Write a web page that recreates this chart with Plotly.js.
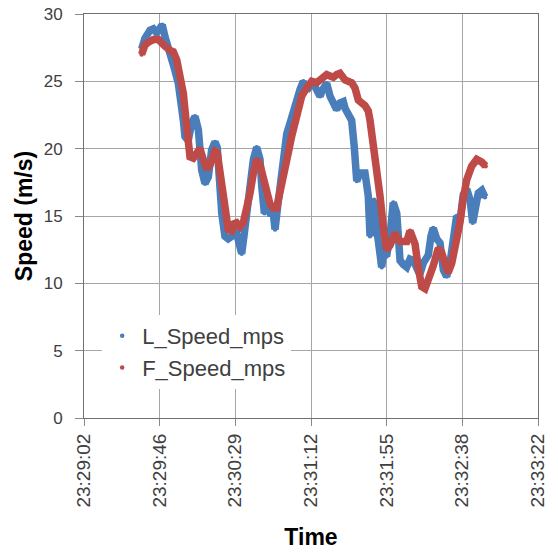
<!DOCTYPE html>
<html><head><meta charset="utf-8">
<script src="https://cdn.plot.ly/plotly-3.0.1.min.js"></script>
<style>html,body{margin:0;padding:0;background:#fff}#chart{width:558px;height:552px}</style>
</head><body><div id="chart"></div>
<script>
// L_Speed_mps (blue)
const lTime = ["23:29:35.0","23:29:36.9","23:29:39.8","23:29:41.7","23:29:43.6","23:29:45.5","23:29:46.8","23:29:48.4","23:29:50.3","23:29:52.2","23:29:54.1","23:29:56.0","23:29:58.0","23:29:58.9","23:29:59.8","23:30:01.7","23:30:03.7","23:30:05.6","23:30:07.5","23:30:08.4","23:30:09.4","23:30:11.3","23:30:13.2","23:30:15.1","23:30:17.0","23:30:18.3","23:30:19.9","23:30:20.9","23:30:22.7","23:30:24.6","23:30:26.8","23:30:28.5","23:30:30.4","23:30:32.3","23:30:33.6","23:30:35.2","23:30:37.1","23:30:39.0","23:30:40.9","23:30:42.8","23:30:43.8","23:30:45.3","23:30:46.6","23:30:48.5","23:30:50.4","23:30:51.4","23:30:52.9","23:30:54.2","23:30:56.1","23:30:58.1","23:31:00.0","23:31:01.9","23:31:03.8","23:31:05.7","23:31:07.6","23:31:08.6","23:31:10.5","23:31:12.4","23:31:14.3","23:31:16.2","23:31:17.2","23:31:18.3","23:31:21.0","23:31:22.9","23:31:24.8","23:31:26.7","23:31:28.6","23:31:30.5","23:31:31.5","23:31:33.4","23:31:35.3","23:31:36.8","23:31:38.2","23:31:40.1","23:31:42.9","23:31:44.8","23:31:45.8","23:31:46.9","23:31:48.1","23:31:49.2","23:31:50.5","23:31:51.5","23:31:52.5","23:31:53.8","23:31:55.3","23:31:57.2","23:31:59.1","23:32:01.1","23:32:02.0","23:32:03.0","23:32:04.9","23:32:06.8","23:32:08.7","23:32:10.6","23:32:13.4","23:32:14.4","23:32:16.3","23:32:19.2","23:32:20.7","23:32:22.0","23:32:24.0","23:32:25.9","23:32:27.8","23:32:29.7","23:32:31.6","23:32:33.5","23:32:35.4","23:32:37.3","23:32:39.2","23:32:41.2","23:32:43.1","23:32:44.6","23:32:45.9","23:32:47.8","23:32:49.8","23:32:51.6"];
const lSpeed = [27.4,28.2,28.8,28.9,28.6,28.9,29.2,28.3,27.6,26.6,25.8,24.85,23.4,22.1,20.9,20.6,21.9,22.4,21.4,19.9,18.4,17.4,17.9,19.9,20.5,20.1,16.7,15.2,13.5,13.3,13.5,14.1,13.2,12.2,13.5,15.2,17.2,19.2,20.1,19.2,17.2,15.2,15.7,15.2,15.2,14.0,15.7,17.2,19.2,21.1,21.9,22.9,23.6,24.4,25.0,24.6,24.5,24.85,24.6,24.2,23.9,24.3,24.85,23.9,23.2,22.9,23.4,23.5,23.0,22.5,22.1,20.1,17.6,18.2,18.2,16.5,13.5,15.0,16.2,14.5,13.0,11.5,11.2,12.7,12.0,13.5,16.0,15.2,12.2,11.7,11.4,11.2,11.8,11.7,10.9,10.7,11.5,12.1,13.5,14.1,13.3,13.0,11.0,10.5,11.5,13.3,15.0,14.6,16.6,17.0,16.2,14.5,15.2,16.7,16.9,16.4];

// F_Speed_mps (red)
const fTime = ["23:29:35.0","23:29:36.9","23:29:38.8","23:29:41.7","23:29:44.6","23:29:46.5","23:29:48.4","23:29:51.3","23:29:53.1","23:29:55.1","23:29:57.0","23:29:58.9","23:29:59.8","23:30:00.8","23:30:01.7","23:30:02.7","23:30:04.6","23:30:06.5","23:30:08.4","23:30:10.3","23:30:12.3","23:30:14.2","23:30:17.0","23:30:18.3","23:30:19.5","23:30:20.9","23:30:22.7","23:30:24.6","23:30:26.6","23:30:27.5","23:30:29.4","23:30:31.3","23:30:33.2","23:30:35.2","23:30:37.1","23:30:39.0","23:30:40.9","23:30:42.8","23:30:44.7","23:30:46.6","23:30:48.5","23:30:50.4","23:30:52.4","23:30:53.3","23:30:55.2","23:30:57.1","23:30:59.0","23:31:00.9","23:31:02.8","23:31:04.7","23:31:06.7","23:31:09.5","23:31:12.4","23:31:15.3","23:31:18.1","23:31:21.0","23:31:22.9","23:31:24.8","23:31:26.7","23:31:28.6","23:31:31.5","23:31:35.3","23:31:37.2","23:31:39.1","23:31:42.9","23:31:44.8","23:31:45.8","23:31:47.7","23:31:49.6","23:31:51.5","23:31:53.4","23:31:55.3","23:31:57.2","23:32:00.1","23:32:03.0","23:32:04.9","23:32:06.8","23:32:08.7","23:32:10.4","23:32:11.6","23:32:13.4","23:32:15.4","23:32:17.3","23:32:19.2","23:32:22.0","23:32:24.9","23:32:26.8","23:32:28.7","23:32:30.6","23:32:32.6","23:32:34.5","23:32:36.4","23:32:37.3","23:32:39.2","23:32:41.2","23:32:44.0","23:32:46.9","23:32:49.8","23:32:52.0"];
const fSpeed = [27.0,27.7,27.9,28.1,28.1,27.8,27.6,27.3,27.2,26.6,25.6,24.1,22.9,21.4,19.9,19.4,19.3,19.8,20.0,19.2,18.5,18.8,19.8,19.7,18.7,16.9,15.2,14.0,13.9,14.4,14.5,14.2,14.5,15.4,16.7,18.2,19.2,18.8,17.9,16.7,15.9,15.6,15.6,16.2,17.2,18.4,19.7,20.9,21.9,22.9,23.9,24.5,25.0,24.9,25.2,25.5,25.4,25.3,25.5,25.6,25.1,24.9,24.5,23.6,23.2,22.8,22.1,20.4,18.7,16.5,14.2,12.5,12.8,13.7,13.1,13.1,13.1,13.9,13.4,12.9,11.2,9.75,9.6,10.2,11.3,12.6,12.3,11.5,10.8,11.5,12.8,13.5,14.5,16.3,17.7,18.7,19.2,19.0,18.7];

const tickLabels = ["23:29:02","23:29:46","23:30:29","23:31:12","23:31:55","23:32:38","23:33:22"];
const seriesNames = ["L_Speed_mps","F_Speed_mps"];

const DAY = "2000-01-01 ";
function secs(t){const p=t.split(":");return (+p[0])*3600+(+p[1])*60+(+p[2]);}
function pad(n,w){let s=String(n);while(s.length<w)s="0"+s;return s;}
function fromSecs(s){
  const h=Math.floor(s/3600), m=Math.floor((s-h*3600)/60), sec=s-h*3600-m*60;
  let ss=sec.toFixed(3); if(sec<10) ss="0"+ss;
  return DAY+pad(h,2)+":"+pad(m,2)+":"+ss;
}
const toDates = arr => arr.map(t => DAY + t);

const t0 = secs(tickLabels[0]), t1 = secs(tickLabels[tickLabels.length-1]);
const step = (t1 - t0) / (tickLabels.length - 1);
const tickVals = tickLabels.map((_, i) => fromSecs(t0 + i*step));

const BLUE = "#4a7ebb", RED = "#be4b48";
const traces = [
  {x: toDates(lTime), y: lSpeed, mode: "lines", line: {color: BLUE, width: 7.5}, showlegend: false, hoverinfo: "skip"},
  {x: toDates(lTime), y: lSpeed, mode: "markers", marker: {color: BLUE, size: 4.5}, name: seriesNames[0]},
  {x: toDates(fTime), y: fSpeed, mode: "lines", line: {color: RED, width: 7.5}, showlegend: false, hoverinfo: "skip"},
  {x: toDates(fTime), y: fSpeed, mode: "markers", marker: {color: RED, size: 4.5}, name: seriesNames[1]}
];

const FONT = "Liberation Sans, Arial, sans-serif";
const layout = {
  width: 558, height: 552,
  margin: {l: 84, r: 20, t: 14, b: 134},
  paper_bgcolor: "#fff", plot_bgcolor: "#fff",
  font: {family: FONT, color: "#404040"},
  showlegend: true,
  legend: {x: 0.04, y: 0.255, xanchor: "left", yanchor: "top", bgcolor: "#fff",
           borderwidth: 0, font: {size: 22, color: "#404040"}, itemwidth: 30},
  xaxis: {
    type: "date", range: [fromSecs(t0), fromSecs(t1)],
    tickmode: "array", tickvals: tickVals, ticktext: tickLabels,
    tickangle: -90, tickfont: {size: 19, color: "#404040"},
    ticks: "outside", ticklen: 7, tickcolor: "#888",
    showgrid: true, gridcolor: "#a6a6a6", gridwidth: 1,
    showline: true, linecolor: "#707070", linewidth: 1, mirror: true, zeroline: false,
    title: {text: "<b>Time</b>", font: {size: 23, color: "#000"}, standoff: 22}
  },
  yaxis: {
    range: [0, 30], tick0: 0, dtick: 5,
    tickfont: {size: 17, color: "#404040"},
    ticks: "outside", ticklen: 8, tickcolor: "#888", ticklabelstandoff: 9,
    showgrid: true, gridcolor: "#a6a6a6", gridwidth: 1,
    showline: true, linecolor: "#707070", linewidth: 1, mirror: true, zeroline: false,
    title: {text: "<b>Speed (m/s)</b>", font: {size: 23, color: "#000"}, standoff: 4}
  }
};
Plotly.newPlot("chart", traces, layout, {displayModeBar: false, staticPlot: true});
</script>
</body></html>
